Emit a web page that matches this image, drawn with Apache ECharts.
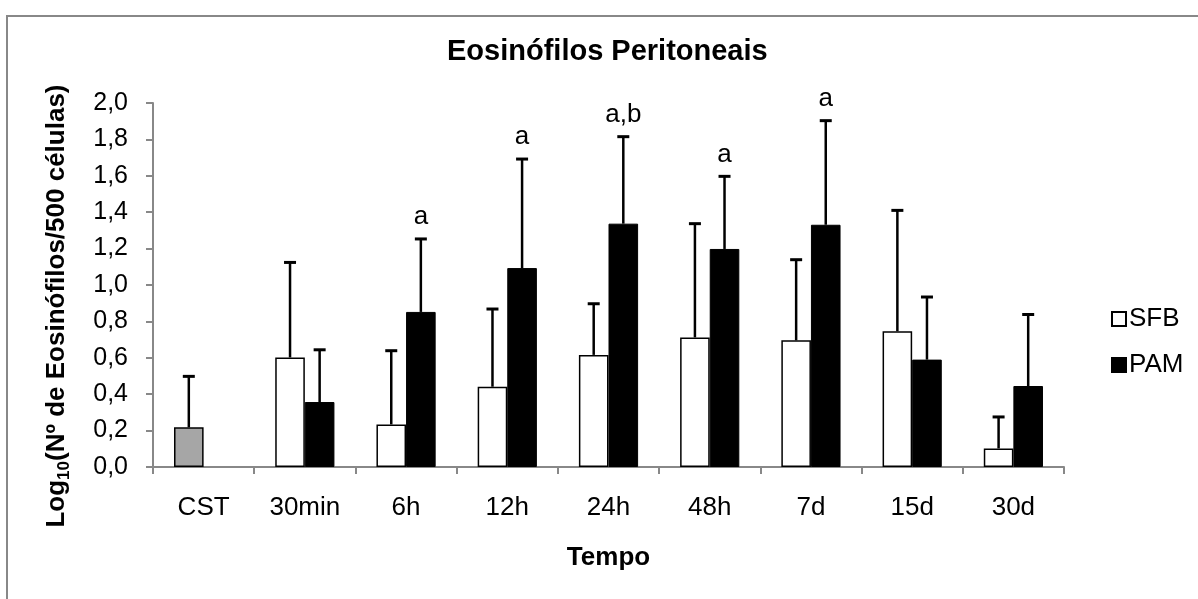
<!DOCTYPE html>
<html>
<head>
<meta charset="utf-8">
<title>Eosinófilos Peritoneais</title>
<script src="https://cdn.jsdelivr.net/npm/echarts@6/dist/echarts.min.js"></script>
<style>
    html, body { margin: 0; padding: 0; background: #fff; }
    #chart { width: 1198px; height: 599px; }
</style>
</head>
<body>
<div id="chart"></div>
<script>
var categories = ['CST', '30min', '6h', '12h', '24h', '48h', '7d', '15d', '30d'];
// mean and standard deviation (upper error bar only)
var sfbMean = [0.218, 0.602, 0.234, 0.441, 0.616, 0.712, 0.696, 0.746, 0.102];
var sfbSd   = [0.280, 0.522, 0.405, 0.427, 0.281, 0.625, 0.443, 0.664, 0.173];
var pamMean = [null, 0.357, 0.852, 1.093, 1.337, 1.198, 1.331, 0.590, 0.445];
var pamSd   = [null, 0.287, 0.401, 0.599, 0.478, 0.399, 0.572, 0.344, 0.393];
var pamLetters = ['', '', 'a', 'a', 'a,b', 'a', 'a', '', ''];
var yTicks = [0, 0.2, 0.4, 0.6, 0.8, 1.0, 1.2, 1.4, 1.6, 1.8, 2.0];

var FONT = '"Liberation Sans", Arial, sans-serif';
var BAR_W = 29.6;

var sfbData = sfbMean.map(function (v, i) {
    if (i === 0) {
        // control group drawn in grey in the SFB slot
        return { value: v, itemStyle: { color: '#a6a6a6' } };
    }
    return v;
});

var errData = [];
for (var i = 0; i < categories.length; i++) {
    errData.push([i, sfbMean[i], sfbMean[i] + sfbSd[i], -1, '']);
    if (pamMean[i] != null) {
        errData.push([i, pamMean[i], pamMean[i] + pamSd[i], 1, pamLetters[i]]);
    }
}

function renderErr(params, api) {
    var idx = api.value(0);
    var side = api.value(3);
    var base = api.coord([idx, api.value(1)]);
    var top = api.coord([idx, api.value(2)]);
    var x = base[0] + side * BAR_W / 2;
    var letter = errData[params.dataIndex][4];
    var children = [
        { type: 'line', shape: { x1: x, y1: base[1], x2: x, y2: top[1] },
          style: { stroke: '#000', lineWidth: 2.5 } },
        { type: 'line', shape: { x1: x - 6, y1: top[1], x2: x + 6, y2: top[1] },
          style: { stroke: '#000', lineWidth: 3 } }
    ];
    if (letter) {
        children.push({
            type: 'text',
            style: { text: letter, x: x, y: top[1] - 9, align: 'center', verticalAlign: 'bottom',
                     fill: '#000', font: '26px ' + FONT }
        });
    }
    return { type: 'group', children: children };
}

var chart = echarts.init(document.getElementById('chart'));
chart.setOption({
    backgroundColor: '#fff',
    animation: false,
    textStyle: { fontFamily: FONT },
    graphic: [{
        type: 'rect',
        shape: { x: 7, y: 16, width: 1200, height: 600 },
        style: { fill: 'none', stroke: '#888', lineWidth: 2 },
        silent: true
    }],
    title: {
        text: 'Eosinófilos Peritoneais',
        left: 447,
        top: 37,
        padding: 0,
        textStyle: { fontFamily: FONT, fontSize: 29, fontWeight: 'bold', color: '#000' }
    },
    legend: {
        orient: 'vertical',
        left: 1106,
        top: 301,
        itemWidth: 14,
        itemHeight: 14,
        itemGap: 20,
        icon: 'rect',
        data: ['SFB', 'PAM'],
        textStyle: { fontFamily: FONT, fontSize: 26, color: '#000', padding: [0, 0, 0, -2] }
    },
    grid: { left: 153, right: 134, top: 103, bottom: 132 },
    xAxis: {
        type: 'category',
        data: categories,
        name: 'Tempo',
        nameLocation: 'middle',
        nameGap: 78,
        nameTextStyle: { fontFamily: FONT, fontSize: 26, fontWeight: 'bold', color: '#000' },
        axisLine: { lineStyle: { color: '#888', width: 2 } },
        axisTick: { show: true, length: 7, lineStyle: { color: '#888', width: 2 } },
        axisLabel: { margin: 28, fontFamily: FONT, fontSize: 26, color: '#000' },
        splitLine: { show: false }
    },
    yAxis: {
        type: 'value',
        min: yTicks[0],
        max: yTicks[yTicks.length - 1],
        interval: 0.2,
        name: '{b|Log}{s|10}{b|(Nº de Eosinófilos/500 células)}',
        nameLocation: 'middle',
        nameRotate: 90,
        nameGap: 80,
        nameTextStyle: {
            padding: [0, 42, 0, 0],
            rich: {
                b: { fontFamily: FONT, fontSize: 26, fontWeight: 'bold', color: '#000', lineHeight: 32 },
                s: { fontFamily: FONT, fontSize: 17, fontWeight: 'bold', color: '#000',
                     lineHeight: 32, verticalAlign: 'bottom' }
            }
        },
        axisLine: { show: true, lineStyle: { color: '#888', width: 2 } },
        axisTick: { show: true, length: 7, lineStyle: { color: '#888', width: 2 } },
        axisLabel: {
            margin: 25,
            fontFamily: FONT, fontSize: 25, color: '#000',
            formatter: function (v) { return v.toFixed(1).replace('.', ','); }
        },
        splitLine: { show: false }
    },
    series: [
        {
            name: 'SFB',
            type: 'bar',
            data: sfbData,
            barWidth: BAR_W,
            barGap: '0%',
            itemStyle: { color: '#fff', borderColor: '#000', borderWidth: 1.5 }
        },
        {
            name: 'PAM',
            type: 'bar',
            data: pamMean,
            barWidth: BAR_W,
            barGap: '0%',
            itemStyle: { color: '#000', borderColor: '#000', borderWidth: 1 }
        },
        {
            name: 'err',
            type: 'custom',
            renderItem: renderErr,
            data: errData,
            encode: { x: 0, y: [1, 2] },
            z: 3,
            silent: true
        }
    ]
});
</script>
</body>
</html>
